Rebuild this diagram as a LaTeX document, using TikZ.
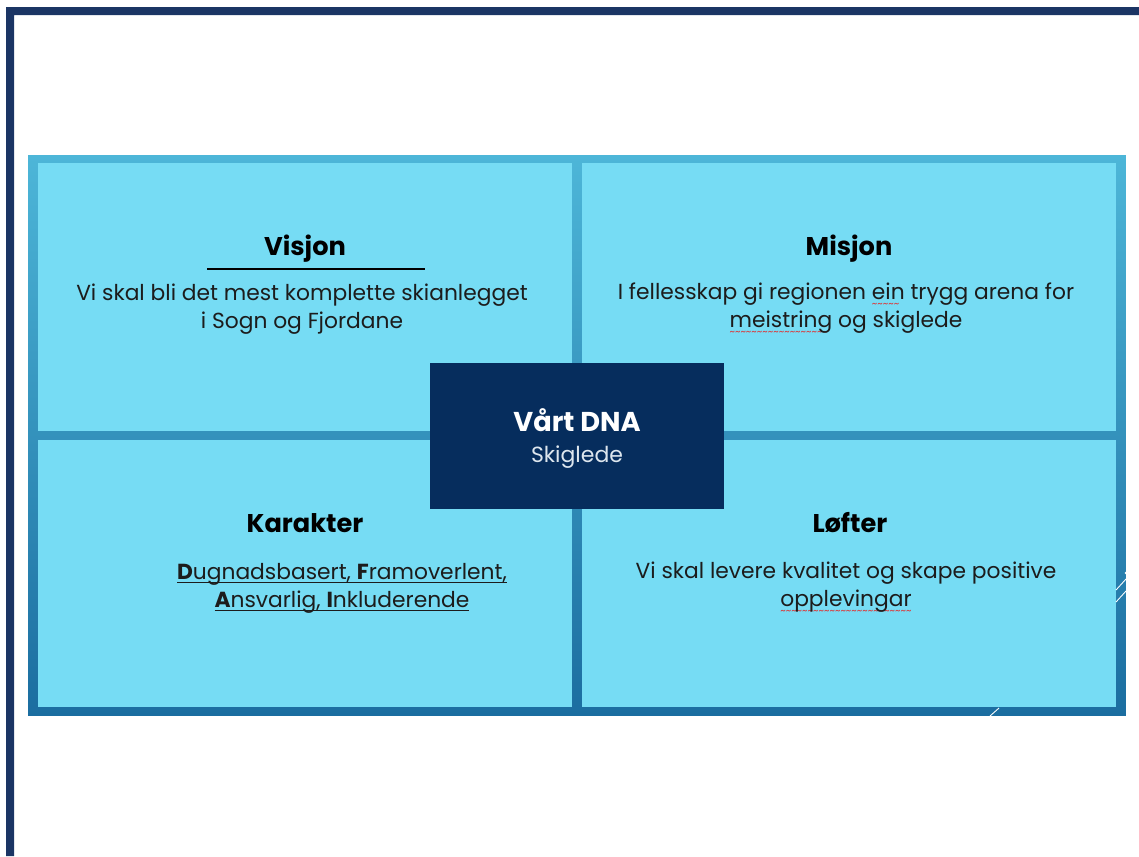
\documentclass[tikz,border=0pt]{standalone}
\usepackage{fontspec}
\setmainfont{Poppins}
\usetikzlibrary{calc}
\usetikzlibrary{positioning}

\definecolor{framenavy}{HTML}{1B3564}
\definecolor{dnanavy}{HTML}{062D5D}
\definecolor{cellcyan}{HTML}{76DCF4}
\definecolor{paneltop}{HTML}{4DB6D8}
\definecolor{panelbottom}{HTML}{1B6DA0}
\definecolor{bodygrey}{HTML}{1C1C1C}
\definecolor{skiwhite}{HTML}{DDE6EE}
\definecolor{spellred}{HTML}{E03030}

% red spell-check wave under a word
\newcommand\spellwave[1]{\setbox0\hbox{#1}\rlap{\raisebox{-4.5pt}{\color{spellred}\fontsize{6}{6}\selectfont\hbox to \wd0{\leaders\hbox{\char`\~}\hfil}}}#1}
% plain underline close to the baseline
\newcommand\baseunder[1]{\setbox0\hbox{#1}\rlap{\rule[-1.8pt]{\wd0}{0.5pt}}#1}

\tikzset{
  cell/.style={rectangle,minimum width=10.68cm,minimum height=5.36cm,fill=cellcyan,inner sep=0pt},
  heading/.style={font=\fontsize{14.6}{18}\selectfont\bfseries,text=black},
  bodytext/.style={font=\fontsize{12.4}{16}\selectfont,text=bodygrey,align=center},
}

\begin{document}
\begin{tikzpicture}[x=0.02cm,y=-0.02cm]

\useasboundingbox (0,0) rectangle (1139,856);
\coordinate (LEFTCORNER) at (0,0);

% navy frame, top and left
\fill[framenavy] (LEFTCORNER) ++(6,856) -- ++(0,-849) -- ++(1133,0) -- ++(0,8) -- ++(-1125,0) -- ++(0,841) -- cycle;

%%%%%%%%%%%%%%%%%%%
% panel and the four cells
\node[rectangle,minimum width=21.96cm,minimum height=11.22cm,inner sep=0pt,top color=paneltop,bottom color=panelbottom] at (577,435.5) (PANEL) {};
\node[cell] at (305,297) (VISJON) {};
\node[cell] at (849,297) (MISJON) {};
\node[cell] at (305,573.5) (KARAKTER) {};
\node[cell] at (849,573.5) (LOFTER) {};

% small white marks on the border
\draw[white,line width=0.5pt] (1116,590) -- (1126,579);
\draw[white,line width=0.5pt] (1116,602) -- (1126,591);
\fill[white] (1126,573) circle (1.5);
\draw[white,line width=0.5pt] (990,716) -- (999,708);

%%%%%%%%%%%%%%%%%%%
% texts
\node[heading] at ($(VISJON)+(0,-48)$) (visjonhead) {Visjon};
\coordinate (ULSTART) at ($(visjonhead)+(-98,20)$);
\coordinate (ULEND) at ($(visjonhead)+(120,20)$);
\draw[line width=0.6pt] (ULSTART) -- (ULEND);
\node[bodytext] at ($(VISJON)+(-3,12)$) (visjontext) {Vi skal bli det mest komplette skianlegget\\ i Sogn og Fjordane};

\node[heading] at ($(MISJON)+(0,-48)$) (misjonhead) {Misjon};
\node[bodytext] at ($(MISJON)+(-3,12)$) (misjontext) {I fellesskap gi regionen \spellwave{ein} trygg arena for\\ \spellwave{meistring} og skiglede};

\node[heading] at ($(KARAKTER)+(0,-50)$) (karakterhead) {Karakter};
\node[bodytext] at ($(KARAKTER)+(37,15)$) (karaktertext) {\baseunder{\textbf{D}ugnadsbasert, \textbf{F}ramoverlent,}\\ \baseunder{\textbf{A}nsvarlig, \textbf{I}nkluderende}};

\node[heading] at ($(LOFTER)+(1,-51)$) (lofterhead) {Løfter};
\node[bodytext] at ($(LOFTER)+(-3,15)$) (loftertext) {Vi skal levere kvalitet og skape positive\\ \spellwave{opplevingar}};

%%%%%%%%%%%%%%%%%%%
% centre box
\node[rectangle,minimum width=5.88cm,minimum height=2.92cm,inner sep=0pt,fill=dnanavy] at (577,436) (DNA) {};
\node[heading,font=\fontsize{15.5}{18}\selectfont\bfseries,text=white] at ($(DNA)+(0,-16)$) (dnahead) {Vårt DNA};
\node[font=\fontsize{12.5}{14}\selectfont,text=skiwhite] at ($(DNA)+(0,21)$) (dnatext) {Skiglede};

\end{tikzpicture}
\end{document}
